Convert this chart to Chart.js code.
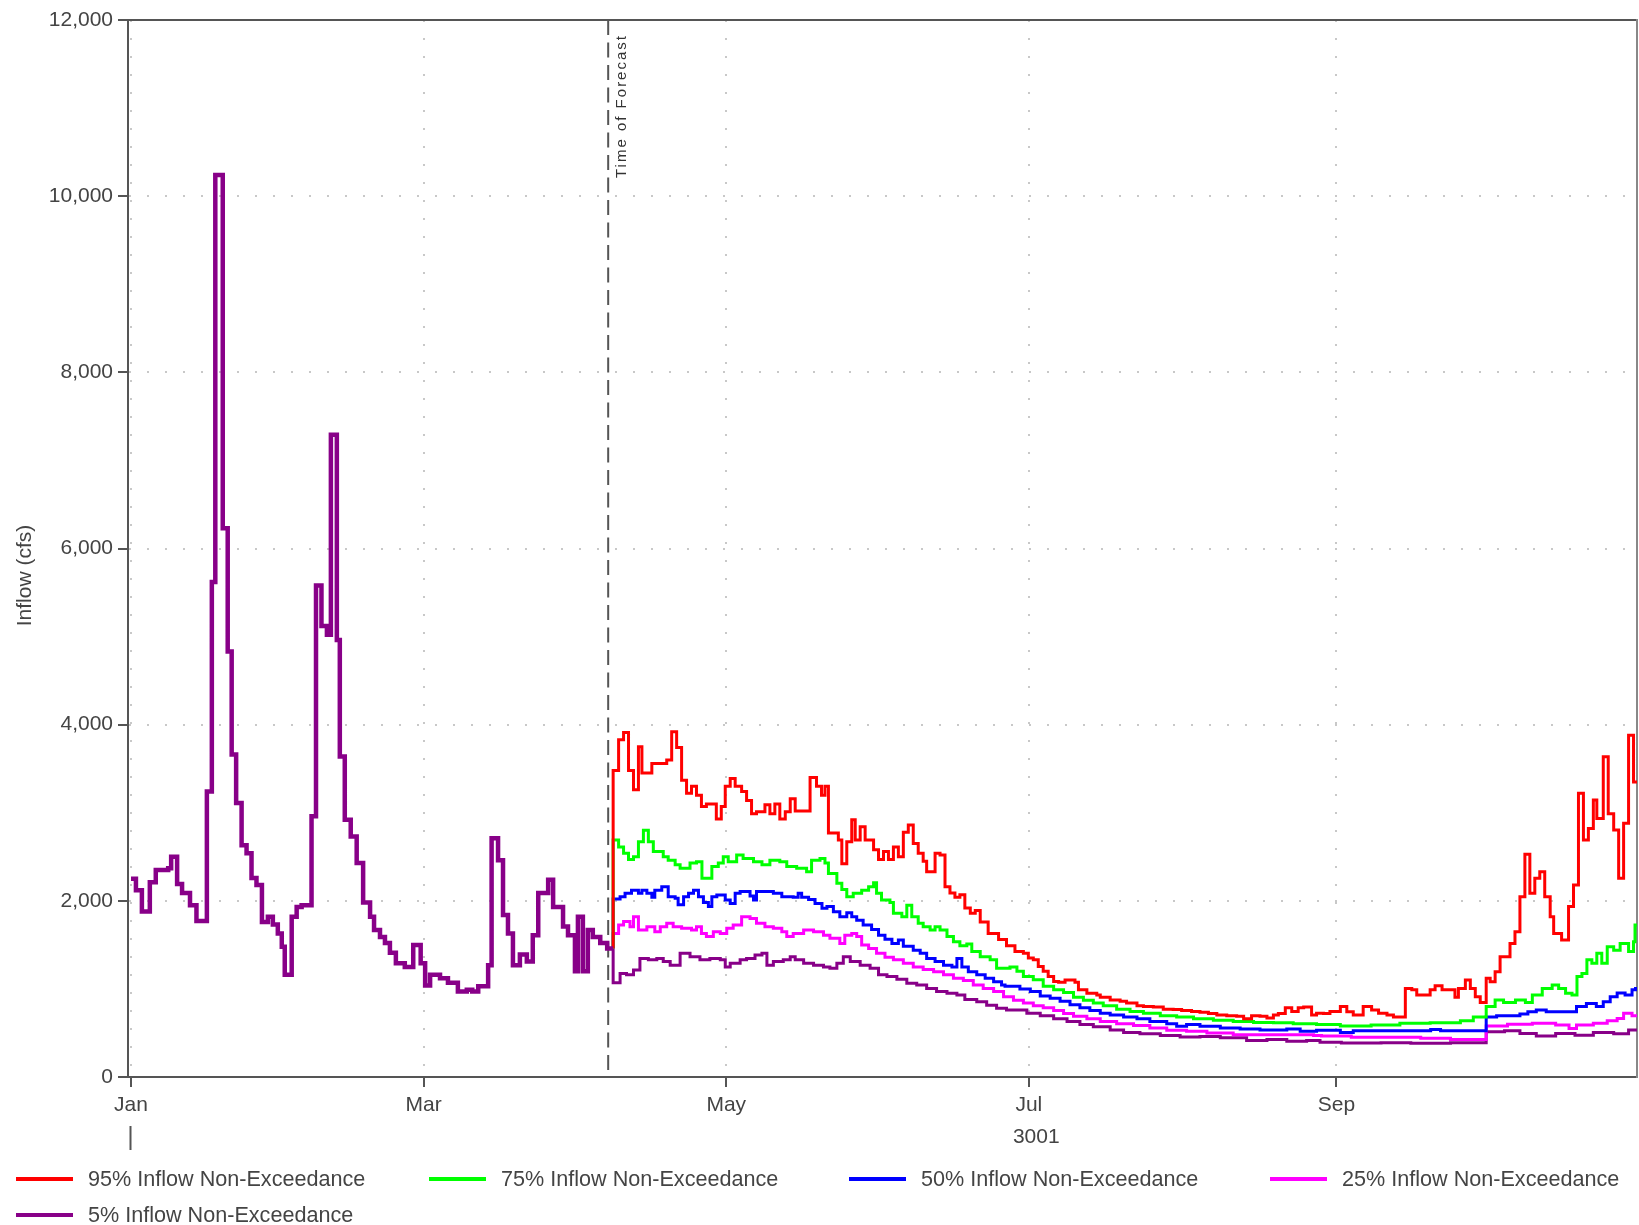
<!DOCTYPE html>
<html>
<head>
<meta charset="utf-8">
<script src="https://cdn.jsdelivr.net/npm/chart.js@4.4.1/dist/chart.umd.min.js"></script>
<style>
  html, body { margin: 0; padding: 0; background: #ffffff; }
  #wrap { position: relative; width: 1639px; height: 1225px; overflow: hidden; background: #fff; }
  #box { position: absolute; left: 0; top: 0; width: 1639px; height: 1165px; }
  #legend { position: absolute; left: 0; top: 0; width: 1639px; height: 1225px; pointer-events: none;
            font-family: 'Liberation Sans', Arial, sans-serif; font-size: 21.6px; color: #444; }
  .item { position: absolute; height: 26px; display: flex; align-items: center; white-space: nowrap; }
  .sw { width: 57px; height: 4px; margin-right: 15px; }
</style>
</head>
<body>
<div id="wrap">
  <div id="box"><canvas id="c"></canvas></div>
  <div id="legend"></div>
</div>
<script>
// ---------- axis / tick data ----------
const monthTicks  = [0, 59, 120, 181, 243];          // day of year (Jan 1 = 0)
const monthLabels = ['Jan', 'Mar', 'May', 'Jul', 'Sep'];
const yearTickDay = 0;
const yearLabelDay = 182.5;
const yearLabel = '3001';
const xMin = -0.6, xMax = 303.6;
const yMin = 0, yMax = 12000, yStep = 2000;
const yTitle = 'Inflow (cfs)';
const forecastDay = 96.2;
const forecastText = 'Time of Forecast';

// ---------- series names / colours ----------
const seriesNames  = ['95% Inflow Non-Exceedance', '75% Inflow Non-Exceedance', '50% Inflow Non-Exceedance',
                      '25% Inflow Non-Exceedance', '5% Inflow Non-Exceedance'];
const seriesColors = ['#ff0000', '#00ff00', '#0000ff', '#ff00ff', '#880088'];

// ---------- observed inflow (before time of forecast) ----------
const obsDays = [0, 1.0, 2.2, 3.8, 5.0, 7.5, 8.1, 9.3, 10.3, 11.9, 13.2, 15.3, 16.3, 17.0, 18.5, 19.5, 20.3, 21.2,
  22.3, 23.3, 24.3, 25.3, 26.4, 27.6, 28.6, 29.6, 30.4, 31.0, 32.4, 33.4, 34.4, 36.4, 37.3, 38.4, 39.5, 40.3, 41.5,
  42.1, 43.1, 44.3, 45.5, 46.8, 48.2, 49.0, 50.2, 51.2, 52.2, 53.4, 55.2, 56.9, 58.4, 59.3, 60.3, 62.3, 63.9, 65.9,
  67.7, 68.8, 70.0, 72.0, 72.7, 74.0, 75.0, 76.0, 77.0, 78.4, 79.8, 81.0, 82.1, 84.1, 85.1, 87.1, 88.1, 89.5, 90.1,
  91.1, 92.1, 93.1, 94.6, 96.0, 97.2];
const obsFlow = [2250, 2120, 1880, 2210, 2350, 2370, 2500, 2190, 2090, 1950, 1770, 3240, 5620, 10240, 6230, 4830, 3660, 3110,
  2630, 2540, 2260, 2180, 1760, 1820, 1730, 1630, 1480, 1160, 1820, 1930, 1950, 2960, 5580, 5120, 5020, 7290, 4960,
  3640, 2920, 2730, 2430, 1980, 1820, 1670, 1590, 1520, 1410, 1290, 1250, 1500, 1290, 1040, 1160, 1120, 1070, 970,
  990, 970, 1030, 1270, 2710, 2460, 1840, 1630, 1270, 1390, 1310, 1610, 2090, 2240, 1930, 1710, 1610, 1200, 1820,
  1200, 1670, 1590, 1520, 1460, 1460];

// ---------- forecast traces ----------
const p95Days = [97.2, 98.3, 99.3, 100.3, 101.3, 102.3, 103.0, 105.0, 108.0, 109.0, 110.0, 111.0, 112.0, 113.0, 114.0,
  115.0, 116.0, 118.0, 119.0, 119.8, 120.8, 121.8, 123.1, 124.1, 125.1, 126.1, 127.8, 128.8, 129.8, 130.8, 131.9,
  132.9, 133.9, 136.9, 138.2, 139.2, 139.9, 140.6, 142.6, 143.3, 144.3, 145.3, 146.0, 147.0, 148.0, 149.7, 150.7,
  151.7, 152.7, 153.7, 154.7, 155.7, 156.7, 157.7, 158.7, 159.7, 160.4, 162.1, 163.1, 164.1, 165.1, 166.1, 167.1,
  168.1, 169.2, 170.2, 171.2, 172.8, 174.9, 176.5, 178.2, 179.9, 180.9, 181.9, 182.9, 183.9, 184.9, 186.0, 187.0,
  188.3, 190.3, 191.0, 192.7, 194.7, 195.4, 197.4, 199.4, 200.7, 202.8, 204.1, 206.1, 208.1, 210.1, 211.8, 213.8,
  215.5, 217.2, 218.9, 220.9, 222.9, 224.3, 225.9, 227.6, 229.0, 230.3, 231.3, 232.7, 234.0, 235.3, 236.4, 238.0,
  239.0, 240.4, 241.7, 243.8, 245.1, 246.4, 248.4, 250.1, 251.5, 253.2, 254.5, 256.9, 258.2, 259.2, 261.9, 262.9,
  264.3, 266.9, 267.6, 269.0, 270.0, 271.0, 272.0, 273.2, 274.0, 275.0, 276.0, 278.0, 279.0, 280.0, 281.0, 282.0,
  283.0, 284.0, 285.0, 286.1, 286.8, 288.4, 289.8, 290.8, 291.8, 292.8, 293.8, 294.8, 295.5, 296.8, 297.8, 298.9,
  299.9, 300.9, 301.9, 302.9, 303.6];
const p95Flow = [3480, 3830, 3910, 3480, 3260, 3750, 3450, 3560, 3600, 3920, 3740, 3370, 3220, 3300, 3200,
  3070, 3100, 2930, 3070, 3300, 3390, 3300, 3240, 3140, 2990, 3010, 3090, 2990, 3100, 2930, 3010,
  3160, 3020, 3400, 3300, 3200, 3300, 2770, 2690, 2420, 2670, 2920, 2690, 2840, 2690, 2580, 2470,
  2560, 2470, 2610, 2500, 2780, 2860, 2650, 2540, 2450, 2330, 2540, 2520, 2160, 2090, 2040, 2070,
  1920, 1860, 1890, 1760, 1630, 1560, 1490, 1425, 1405, 1350, 1330, 1255, 1200, 1140, 1085, 1075,
  1100, 1075, 990, 950, 930, 905, 875, 860, 840, 810, 800, 795, 770, 765, 755, 745,
  735, 720, 705, 695, 690, 660, 695, 690, 670, 705, 720, 785, 745, 785, 795, 705,
  725, 720, 745, 800, 740, 705, 800, 760, 725, 705, 680, 1005, 990, 930, 990, 1035,
  990, 905, 1005, 1100, 1005, 910, 845, 1120, 1080, 1195, 1365, 1515, 1650, 2045, 2530, 2085,
  2255, 2330, 2045, 1820, 1630, 1555, 1935, 2180, 3220, 2690, 2820, 3145, 2935, 3635, 2990, 2805,
  2255, 2880, 3880, 3350, 3350];

const p75Days = [97.2, 98.3, 99.3, 100.3, 101.3, 102.3, 103.3, 104.3, 105.3, 107.3, 108.3, 109.7, 110.7, 112.7, 114.0,
  115.1, 117.1, 118.4, 119.4, 120.4, 122.1, 123.4, 125.5, 127.2, 128.8, 130.8, 132.2, 134.2, 136.2, 137.2, 138.9,
  139.9, 140.6, 142.3, 143.3, 144.3, 145.6, 147.3, 148.7, 149.7, 150.3, 151.3, 153.0, 153.7, 155.4, 156.4, 157.4,
  158.7, 159.7, 161.1, 162.1, 163.1, 164.5, 165.8, 167.1, 168.5, 169.5, 171.2, 173.2, 174.5, 177.2, 178.6, 179.9,
  181.9, 183.9, 186.0, 188.0, 190.0, 192.0, 194.0, 196.0, 198.7, 201.4, 204.1, 207.5, 210.8, 214.2, 218.2, 222.2,
  226.3, 230.3, 234.3, 239.0, 243.8, 250.0, 255.8, 261.9, 268.0, 270.6, 273.2, 275.0, 276.7, 279.1, 281.1, 282.5,
  284.5, 286.5, 287.8, 289.2, 290.5, 291.5, 292.5, 293.5, 294.5, 295.5, 296.5, 297.6, 298.9, 300.2, 301.9, 302.9,
  303.2, 303.6];
const p75Flow = [2690, 2610, 2540, 2470, 2500, 2670, 2800, 2670, 2560, 2500, 2460, 2410, 2370, 2430, 2445,
  2255, 2390, 2430, 2500, 2445, 2520, 2480, 2445, 2410, 2460, 2445, 2390, 2370, 2330, 2460, 2480,
  2430, 2310, 2200, 2130, 2045, 2085, 2120, 2160, 2205, 2085, 2010, 1980, 1860, 1820, 1950, 1820,
  1745, 1705, 1670, 1705, 1670, 1595, 1535, 1490, 1510, 1425, 1365, 1330, 1235, 1250, 1200, 1140,
  1105, 1030, 990, 960, 905, 870, 840, 810, 770, 745, 725, 695, 680, 660, 645, 630,
  620, 615, 605, 595, 580, 590, 610, 615, 640, 680, 800, 875, 845, 875, 845, 930,
  1005, 1045, 1005, 950, 930, 1140, 1175, 1330, 1290, 1405, 1290, 1480, 1440, 1515, 1425, 1535,
  1725, 1725];

const p50Days = [97.2, 98.6, 99.6, 100.9, 102.3, 103.0, 104.0, 105.0, 105.6, 107.0, 108.3, 109.7, 110.3, 111.4, 112.4,
  113.4, 114.4, 115.4, 116.4, 117.1, 118.1, 119.8, 120.8, 121.8, 122.8, 124.8, 125.5, 126.1, 129.5, 131.2, 133.5,
  134.5, 135.2, 136.6, 137.9, 139.3, 140.3, 141.6, 142.9, 144.3, 145.3, 146.3, 147.6, 149.3, 150.7, 152.0, 153.4,
  154.7, 155.7, 157.7, 159.1, 160.4, 162.1, 163.8, 165.5, 166.5, 167.5, 168.8, 170.5, 172.2, 173.9, 175.5, 176.2,
  179.2, 181.3, 183.3, 185.3, 187.3, 189.3, 191.3, 193.3, 195.4, 197.4, 200.1, 202.8, 205.4, 208.8, 210.8, 212.8,
  215.5, 219.6, 223.6, 227.6, 233.0, 235.7, 239.0, 243.8, 246.4, 262.0, 264.0, 273.2, 275.3, 280.0, 281.6, 283.3,
  285.3, 291.4, 293.4, 295.4, 296.8, 298.2, 299.6, 301.2, 302.6, 303.3, 303.6];
const p50Flow = [2020, 2045, 2085, 2120, 2085, 2120, 2085, 2040, 2120, 2160, 2045, 2030, 1955, 2045, 2085,
  2120, 2045, 1980, 1935, 2045, 2065, 2010, 1970, 2085, 2105, 2055, 2010, 2105, 2085, 2045, 2040,
  2085, 2040, 2015, 1970, 1915, 1935, 1875, 1820, 1865, 1820, 1780, 1725, 1675, 1610, 1565, 1515,
  1555, 1485, 1440, 1405, 1345, 1310, 1270, 1250, 1345, 1250, 1195, 1160, 1120, 1080, 1045, 1030,
  1000, 970, 920, 895, 860, 820, 785, 755, 725, 705, 680, 660, 630, 605, 575, 595,
  575, 555, 545, 535, 545, 520, 530, 505, 525, 540, 525, 680, 695, 715, 740, 760,
  740, 800, 835, 800, 855, 910, 955, 930, 990, 1005, 1005];

const p25Days = [97.2, 98.3, 99.3, 100.6, 101.3, 102.3, 104.0, 105.6, 106.7, 108.0, 109.3, 111.0, 113.0, 114.0, 115.0,
  116.0, 117.4, 118.8, 120.1, 121.4, 123.1, 124.8, 126.1, 127.8, 129.5, 131.2, 132.2, 133.5, 135.6, 137.6, 139.6,
  140.9, 142.9, 143.9, 145.3, 146.3, 147.3, 148.7, 150.3, 152.0, 153.7, 155.7, 157.7, 159.7, 161.8, 163.8, 165.8,
  167.8, 169.8, 171.8, 173.9, 175.9, 177.9, 179.9, 181.9, 183.9, 186.0, 188.0, 190.0, 192.7, 195.4, 198.7, 202.1,
  205.4, 208.8, 212.8, 216.9, 222.2, 238.4, 240.0, 246.0, 260.0, 266.0, 273.2, 277.5, 282.5, 287.2, 289.9, 291.4,
  294.8, 297.6, 299.6, 300.9, 302.6, 303.6];
const p25Flow = [1630, 1725, 1765, 1705, 1820, 1670, 1705, 1650, 1705, 1745, 1705, 1690, 1670, 1705, 1630,
  1595, 1650, 1630, 1690, 1725, 1820, 1800, 1745, 1705, 1690, 1650, 1595, 1630, 1670, 1650, 1610,
  1575, 1515, 1610, 1630, 1595, 1500, 1460, 1405, 1360, 1330, 1290, 1250, 1220, 1195, 1160, 1120,
  1095, 1045, 1005, 970, 910, 870, 840, 810, 785, 755, 720, 690, 660, 630, 605, 585,
  555, 530, 520, 500, 480, 470, 465, 450, 440, 427, 580, 600, 610, 590, 550, 590,
  610, 640, 665, 725, 695, 695];

const p5Days = [97.2, 98.6, 99.9, 101.3, 102.6, 104.3, 106.0, 107.3, 108.7, 110.7, 112.7, 114.7, 116.7, 118.8, 119.8,
  120.8, 122.8, 124.1, 125.8, 127.2, 128.2, 129.5, 131.5, 132.9, 133.9, 135.6, 137.6, 139.6, 140.9, 142.3, 143.6,
  145.0, 147.0, 149.0, 150.7, 152.4, 154.4, 156.4, 158.4, 160.4, 162.4, 164.5, 166.5, 168.1, 170.5, 172.5, 174.5,
  176.5, 180.6, 183.3, 186.0, 188.7, 191.3, 194.0, 197.4, 200.1, 203.4, 207.5, 211.5, 215.5, 219.6, 224.9, 229.0,
  233.0, 237.0, 239.7, 244.0, 252.0, 258.0, 266.0, 273.2, 276.9, 280.0, 283.3, 287.2, 291.1, 294.8, 298.9, 301.9,
  303.6];
const p5Flow = [1070, 1175, 1160, 1215, 1345, 1330, 1345, 1310, 1270, 1405, 1365, 1330, 1345, 1330, 1250,
  1290, 1330, 1345, 1385, 1405, 1270, 1310, 1330, 1365, 1330, 1290, 1270, 1250, 1235, 1290, 1365,
  1310, 1270, 1235, 1160, 1140, 1110, 1065, 1045, 1005, 970, 950, 930, 880, 855, 815, 780,
  760, 725, 695, 660, 630, 595, 570, 535, 505, 490, 470, 455, 460, 445, 415, 425,
  405, 415, 395, 385, 390, 382, 390, 515, 525, 495, 465, 495, 475, 505, 490, 535,
  540];

// ---------- build datasets ----------
function toPoints(days, vals) { return days.map((d, i) => ({ x: d, y: vals[i] })); }
const obsEnd = { x: obsDays[obsDays.length - 1], y: obsFlow[obsFlow.length - 1] };
const fcDays = [p95Days, p75Days, p50Days, p25Days, p5Days];
const fcFlows = [p95Flow, p75Flow, p50Flow, p25Flow, p5Flow];

const datasets = [];
datasets.push({ label: 'observed', data: toPoints(obsDays, obsFlow), borderColor: seriesColors[4],
  borderWidth: 4.5, stepped: true, pointRadius: 0, fill: false });
fcDays.forEach((d, i) => {
  datasets.push({ label: seriesNames[i], data: [obsEnd].concat(toPoints(d, fcFlows[i])),
    borderColor: seriesColors[i], borderWidth: 3, stepped: true, pointRadius: 0, fill: false });
});
datasets.push({ label: 'forecast', data: [{ x: forecastDay, y: yMax }, { x: forecastDay, y: yMin }],
  borderColor: '#555', borderWidth: 2, borderDash: [15, 7.5], pointRadius: 0, fill: false, stepped: false });

// ---------- text plugin: forecast label and y-axis title ----------
const chartTexts = {
  id: 'chartTexts',
  afterDatasetsDraw(chart) {
    const { ctx, chartArea } = chart;
    const px = chart.scales.x.getPixelForValue(forecastDay);
    ctx.save();
    ctx.translate(px + 14, chartArea.top + 158);
    ctx.rotate(-Math.PI / 2);
    ctx.font = "15px 'Liberation Sans', Arial, sans-serif";
    if ('letterSpacing' in ctx) ctx.letterSpacing = '2px';
    ctx.fillStyle = '#333';
    ctx.textAlign = 'left';
    ctx.textBaseline = 'middle';
    ctx.fillText(forecastText, 0, 0);
    ctx.restore();
  },
  afterDraw(chart) {
    const { ctx, chartArea } = chart;
    ctx.save();
    ctx.translate(25, (chartArea.top + chartArea.bottom) / 2 + 27);
    ctx.rotate(-Math.PI / 2);
    ctx.font = "21px 'Liberation Sans', Arial, sans-serif";
    ctx.fillStyle = '#444';
    ctx.textAlign = 'center';
    ctx.textBaseline = 'middle';
    ctx.fillText(yTitle, 0, 0);
    ctx.restore();
  }
};

Chart.defaults.font.family = "'Liberation Sans', Arial, sans-serif";
Chart.defaults.font.size = 21;
Chart.defaults.color = '#444';

const gridColor = '#c8c8c8';
const axisColor = '#555';

new Chart(document.getElementById('c'), {
  type: 'line',
  data: { datasets },
  plugins: [chartTexts],
  options: {
    responsive: true,
    maintainAspectRatio: false,
    animation: false,
    events: [],
    layout: { padding: { top: 20, right: 2, left: 0, bottom: 0 } },
    plugins: { legend: { display: false }, tooltip: { enabled: false } },
    elements: { point: { radius: 0 }, line: { tension: 0 } },
    scales: {
      x: {
        type: 'linear', position: 'bottom', min: xMin, max: xMax, weight: 0,
        afterBuildTicks: s => { s.ticks = monthTicks.map(v => ({ value: v })); },
        afterFit: s => { s.height = 49; },
        ticks: { callback: (v, i) => monthLabels[i], autoSkip: false, maxRotation: 0, padding: 6, color: '#444' },
        grid: { color: gridColor, lineWidth: 2, tickLength: 10, tickColor: axisColor, tickWidth: 2, tickBorderDash: [] },
        border: { display: true, color: axisColor, width: 2, dash: [2, 16] }
      },
      xYear: {
        type: 'linear', position: 'bottom', min: xMin, max: xMax, weight: 1,
        afterBuildTicks: s => { s.ticks = [{ value: yearTickDay }, { value: yearLabelDay }]; },
        afterFit: s => { s.height = 39; },
        ticks: { callback: (v, i) => (i === 1 ? yearLabel : ''), autoSkip: false, maxRotation: 0, padding: -25, color: '#444' },
        grid: { drawOnChartArea: false, tickLength: 24, tickWidth: 2, tickBorderDash: [],
                tickColor: c => (c.index === 0 ? axisColor : 'rgba(0,0,0,0)') },
        border: { display: false }
      },
      xTop: {
        type: 'linear', position: 'top', min: xMin, max: xMax,
        ticks: { display: false }, grid: { display: false },
        border: { display: true, color: axisColor, width: 2 },
        afterFit: s => { s.height = 0; }
      },
      y: {
        type: 'linear', position: 'left', min: yMin, max: yMax,
        ticks: { stepSize: yStep, padding: 5, color: '#444' },
        afterFit: s => { s.width = 128; },
        grid: { color: gridColor, lineWidth: 2, tickLength: 10, tickColor: axisColor, tickWidth: 2, tickBorderDash: [] },
        border: { display: true, color: axisColor, width: 2, dash: [2, 16] },
        title: { display: false, text: yTitle }
      },
      yRight: {
        type: 'linear', position: 'right', min: yMin, max: yMax,
        ticks: { display: false }, grid: { display: false },
        border: { display: true, color: '#888', width: 2 },
        afterFit: s => { s.width = 0; }
      }
    }
  }
});

// ---------- legend (HTML) ----------
const legendCols = [16, 429, 849, 1270];
const legendRows = [1179, 1215];
const legendEl = document.getElementById('legend');
seriesNames.forEach((name, i) => {
  const item = document.createElement('div');
  item.className = 'item';
  item.style.left = legendCols[i % 4] + 'px';
  item.style.top = (legendRows[Math.floor(i / 4)] - 13) + 'px';
  const sw = document.createElement('div');
  sw.className = 'sw';
  sw.style.background = seriesColors[i];
  const tx = document.createElement('span');
  tx.textContent = name;
  item.appendChild(sw);
  item.appendChild(tx);
  legendEl.appendChild(item);
});
</script>
</body>
</html>
